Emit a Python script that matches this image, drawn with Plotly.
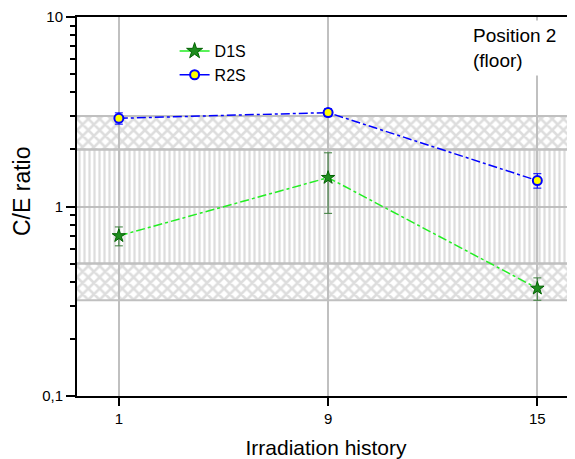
import plotly.graph_objects as go

# ---- data ----
categories = ["1", "9", "15"]
d1s_values = [0.70, 1.42, 0.37]
d1s_errors = [0.08, 0.50, 0.05]
r2s_values = [2.92, 3.13, 1.37]
r2s_errors = [0.20, 0.15, 0.12]
band_outer = [0.32, 3.0]   # outer (factor ~3) band limits
band_inner = [0.5, 2.0]    # inner (factor 2) band limits
y_tickvals = [0.1, 1, 10]
y_ticktext = ["0,1", "1", "10"]
y_minor = [0.2, 0.3, 0.4, 0.5, 0.6, 0.7, 0.8, 0.9, 2, 3, 4, 5, 6, 7, 8, 9]

xpos = list(range(len(categories)))
x_lo, x_hi = -0.2, 2.18
bx = [x_lo - 1, x_hi + 1, x_hi + 1, x_lo - 1, x_lo - 1]

FONT = "Liberation Sans, Arial, sans-serif"
GRID = "#c0c0c0"

fig = go.Figure()


def band(y0, y1, shape, size, solidity):
    fig.add_trace(go.Scatter(
        x=bx, y=[y0, y0, y1, y1, y0], mode="lines", fill="toself",
        fillcolor="rgba(0,0,0,0)",
        fillpattern=dict(shape=shape, fgcolor="#bcbcbc", bgcolor="rgba(0,0,0,0)",
                         size=size, solidity=solidity),
        line=dict(color=GRID, width=2), showlegend=False, hoverinfo="skip"))


band(band_outer[0], band_inner[0], "x", 8, 0.55)
band(band_inner[0], band_inner[1], "|", 5, 0.45)
band(band_inner[1], band_outer[1], "x", 8, 0.55)

# data traces
fig.add_trace(go.Scatter(
    x=xpos, y=d1s_values, mode="lines+markers", showlegend=False,
    line=dict(color="#22ee22", width=1.5, dash="dashdot"),
    marker=dict(symbol="star", size=10, color="#1e8c1e",
                line=dict(color="#006400", width=1)),
    error_y=dict(type="data", array=d1s_errors, color="#3a7d3a",
                 thickness=1, width=4)))
fig.add_trace(go.Scatter(
    x=xpos, y=r2s_values, mode="lines+markers", showlegend=False,
    line=dict(color="#0000ff", width=1.5, dash="dashdot"),
    marker=dict(symbol="circle", size=9, color="#ffff00",
                line=dict(color="#0000ff", width=2)),
    error_y=dict(type="data", array=r2s_errors, color="#0000ff",
                 thickness=1, width=4)))

# legend entries (solid lines as in the reference legend)
fig.add_trace(go.Scatter(
    x=[None], y=[None], mode="lines+markers", name="D1S",
    line=dict(color="#22ee22", width=1.5),
    marker=dict(symbol="star", size=12, color="#1e8c1e",
                line=dict(color="#006400", width=1))))
fig.add_trace(go.Scatter(
    x=[None], y=[None], mode="lines+markers", name="R2S",
    line=dict(color="#0000ff", width=1.5),
    marker=dict(symbol="circle", size=9, color="#ffff00",
                line=dict(color="#0000ff", width=2))))

# page body adds an 8px offset; figure sized so its edges meet the window
fig.update_layout(
    width=567, height=451,
    margin=dict(l=69, r=0, t=9, b=63),
    paper_bgcolor="white", plot_bgcolor="white",
    font=dict(family=FONT, color="black"),
    legend=dict(x=0.196, y=0.955, xanchor="left", yanchor="top",
                bgcolor="rgba(0,0,0,0)", font=dict(size=16),
                tracegroupgap=0),
    annotations=[
        dict(text="Position 2<br>(floor)", xref="paper", yref="paper",
             x=(468 - 77) / 498, y=(396 - 20) / 379, xanchor="left",
             yanchor="top", align="left", showarrow=False,
             font=dict(size=19, family=FONT, color="black"),
             bgcolor="white", borderpad=4),
        dict(text="C/E ratio", xref="paper", yref="paper",
             x=(22 - 77) / 498, y=(396 - 192) / 379, xanchor="center",
             yanchor="middle", textangle=-90, showarrow=False,
             font=dict(size=23, family=FONT, color="black")),
    ],
)

fig.update_xaxes(
    range=[x_lo, x_hi], tickvals=xpos, ticktext=categories,
    showgrid=True, gridcolor=GRID, gridwidth=2, zeroline=False,
    showline=True, linecolor="black", linewidth=2, mirror=True,
    ticks="outside", ticklen=8, tickwidth=2, tickcolor="black",
    tickfont=dict(size=15), ticklabelstandoff=0,
    title=dict(text="Irradiation history", font=dict(size=21), standoff=16))

fig.update_yaxes(
    type="log", range=[-1, 1], tickvals=y_tickvals, ticktext=y_ticktext,
    showgrid=True, gridcolor=GRID, gridwidth=2, zeroline=False,
    showline=True, linecolor="black", linewidth=2,
    ticks="outside", ticklen=9, tickwidth=2, tickcolor="black",
    tickfont=dict(size=15),
    minor=dict(tickvals=y_minor, ticks="outside", ticklen=5, tickwidth=2,
               tickcolor="black", showgrid=False))

fig.write_html("out.html")
